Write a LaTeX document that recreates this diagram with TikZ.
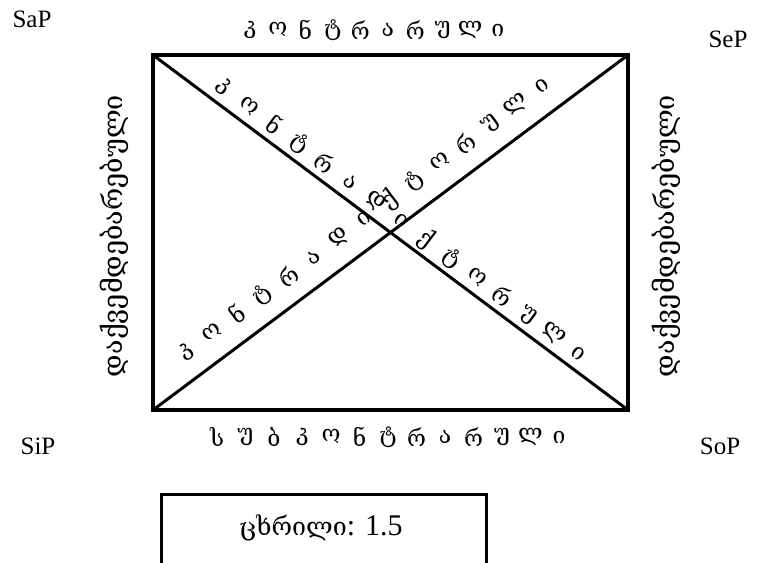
\documentclass[tikz,border=0pt]{standalone}
\usepackage{fontspec}
\setmainfont{Liberation Serif}
\newfontfamily\geo{DejaVu Serif}
\usetikzlibrary{calc}
\tikzset{
  frame/.style={line width=4pt, line join=miter},
  diag/.style={line width=3pt},
  corner/.style={font=\fontsize{25}{27}\selectfont, inner sep=0pt},
  letter/.style={font=\geo\fontsize{23}{25}\selectfont, inner sep=0pt},
  side/.style={font=\geo\fontsize{27}{29}\selectfont, inner sep=0pt},
  boxed/.style={draw, line width=3pt, minimum width=325pt, minimum height=90pt, anchor=north west, inner sep=0pt}
}
\begin{document}
\begin{tikzpicture}[x=1pt,y=-1pt]
\clip (0,0) rectangle (760,562);
\fill[white] (0,0) rectangle (760,562);
\coordinate (A) at (153,55);
\coordinate (B) at (628,55);
\coordinate (C) at (153,410);
\coordinate (D) at (628,410);
\coordinate (M) at (390.5,232.5);
\draw[frame] (A) rectangle (D);
\draw[diag] (A) -- (D);
\draw[diag] (C) -- (B);
% corner labels
\node[corner] (sap) at (32,19) {SaP};
\node[corner] (sep) at (728,39) {SeP};
\node[corner] (sip) at (38,446) {SiP};
\node[corner] (sop) at (720,446) {SoP};
% top
\foreach \ch [count=\i] in {კ,ო,ნ,ტ,რ,ა,რ,უ,ლ,ი}
  \node[letter] (t\i) at ({374+(\i-5.5)*27.5},30) {\ch};
% bottom
\foreach \ch [count=\i] in {ს,უ,ბ,კ,ო,ნ,ტ,რ,ა,რ,უ,ლ,ი}
  \node[letter] (b\i) at ({388+(\i-7)*28.5},437) {\ch};
% diagonal TL-BR
\foreach \ch [count=\i] in {კ,ო,ნ,ტ,რ,ა,დ,ი,ქ,ტ,ო,რ,უ,ლ,ი}
  \node[letter, rotate=-36.87] (d\i) at ({401+(\i-8)*31.7*0.8},{220+(\i-8)*31.7*0.6}) {\ch};
% diagonal BL-TR
\foreach \ch [count=\i] in {კ,ო,ნ,ტ,რ,ა,დ,ი,ქ,ტ,ო,რ,უ,ლ,ი}
  \node[letter, rotate=36.87] (e\i) at ({364+(\i-8)*31.7*0.8},{219-(\i-8)*31.7*0.6}) {\ch};
% sides
\node[side, rotate=90] (left) at (114,236) {დაქვემდებარებული};
\node[side, rotate=90] (right) at (666,236) {დაქვემდებარებული};
% box
\node[boxed] (tbl) at (160,493) {};
\node[inner sep=0pt] (tbltxt) at (321,528) {{\geo\fontsize{25}{30}\selectfont ცხრილი}{\fontsize{30}{32}\selectfont: 1.5}};
\end{tikzpicture}
\end{document}
